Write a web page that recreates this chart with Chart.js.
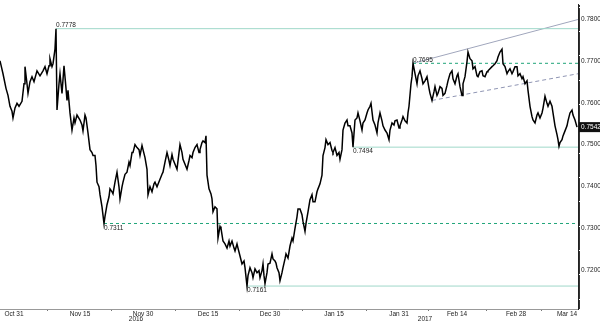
<!DOCTYPE html>
<html>
<head>
<meta charset="utf-8">
<script src="https://cdn.jsdelivr.net/npm/chart.js@4.4.1/dist/chart.umd.min.js"></script>
<style>
  html, body { margin: 0; padding: 0; background: #fff; }
  #wrap { width: 600px; height: 323px; }
</style>
</head>
<body>
<div id="wrap"><canvas id="myChart"></canvas></div>
<script>
// bar index (x) and close price
const bars = [0,3,6,8,10,12,13,15,17,19,22,24,25,27,28,30,32,34,37,40,43,45,47,49,50,52,53,55,56,57,59,60,62,64,66,67,68,70,72,74,75,77,80,82,83,85,86,88,90,92,93,95,96,97,99,100,102,104,105,107,109,110,112,113,115,117,119,120,122,123,125,127,129,130,132,133,135,137,139,140,142,143,145,147,148,150,152,154,155,157,160,162,163,165,167,169,170,172,173,175,177,179,180,182,183,185,187,189,190,192,193,195,197,199,200,202,203,205,206,207,209,211,212,213,215,217,218,220,221,223,225,227,229,230,232,234,235,237,238,240,242,244,245,247,248,250,252,253,255,257,259,260,262,263,264,265,267,268,270,272,273,275,276,277,279,280,282,283,285,286,288,290,292,293,295,297,298,300,302,303,305,306,308,310,312,313,315,317,318,320,322,323,325,326,328,330,332,333,335,337,339,340,342,343,345,347,348,350,352,353,355,357,358,360,362,363,365,367,368,370,371,373,375,377,378,380,382,383,385,387,389,390,392,394,395,397,399,400,402,403,405,407,408,409,411,412,413,415,417,418,420,422,423,425,427,429,430,432,434,435,437,438,440,442,443,445,447,448,450,452,453,455,457,458,460,462,463,465,467,468,470,472,473,475,477,478,480,482,483,485,487,488,490,492,493,495,497,498,500,502,503,505,507,508,510,512,513,515,517,518,520,522,523,525,527,528,530,532,533,535,537,538,540,542,543,545,547,548,550,552,553,555,557,558,559,560,562,563,565,567,568,570,572,573,575,577];
const prices = [0.7701,0.7670,0.7635,0.7618,0.7592,0.7580,0.7564,0.7588,0.7599,0.7592,0.7604,0.7646,0.7687,0.7646,0.7623,0.7651,0.7663,0.7651,0.7677,0.7665,0.7677,0.7687,0.7670,0.7689,0.7706,0.7687,0.7694,0.7729,0.7778,0.7583,0.7646,0.7670,0.7623,0.7689,0.7635,0.7606,0.7630,0.7576,0.7535,0.7564,0.7552,0.7571,0.7559,0.7547,0.7533,0.7571,0.7564,0.7528,0.7488,0.7481,0.7474,0.7474,0.7450,0.7410,0.7399,0.7380,0.7351,0.7311,0.7328,0.7356,0.7375,0.7394,0.7387,0.7382,0.7410,0.7434,0.7399,0.7370,0.7399,0.7410,0.7429,0.7434,0.7458,0.7450,0.7481,0.7481,0.7500,0.7493,0.7488,0.7474,0.7498,0.7488,0.7469,0.7441,0.7380,0.7399,0.7387,0.7406,0.7410,0.7399,0.7417,0.7429,0.7434,0.7458,0.7481,0.7462,0.7450,0.7476,0.7465,0.7453,0.7441,0.7481,0.7500,0.7481,0.7465,0.7453,0.7441,0.7462,0.7474,0.7469,0.7481,0.7493,0.7500,0.7481,0.7488,0.7505,0.7509,0.7505,0.7521,0.7427,0.7394,0.7382,0.7370,0.7339,0.7351,0.7346,0.7276,0.7304,0.7299,0.7269,0.7262,0.7252,0.7269,0.7257,0.7269,0.7252,0.7245,0.7262,0.7252,0.7233,0.7214,0.7221,0.7205,0.7161,0.7186,0.7205,0.7193,0.7181,0.7202,0.7193,0.7198,0.7181,0.7198,0.7214,0.7186,0.7167,0.7193,0.7214,0.7216,0.7238,0.7226,0.7221,0.7216,0.7205,0.7193,0.7174,0.7193,0.7205,0.7226,0.7238,0.7228,0.7257,0.7276,0.7269,0.7299,0.7327,0.7346,0.7346,0.7332,0.7316,0.7292,0.7311,0.7339,0.7368,0.7380,0.7363,0.7363,0.7387,0.7394,0.7406,0.7427,0.7474,0.7493,0.7512,0.7500,0.7505,0.7486,0.7481,0.7493,0.7474,0.7481,0.7465,0.7488,0.7535,0.7552,0.7559,0.7545,0.7545,0.7528,0.7494,0.7559,0.7564,0.7576,0.7557,0.7535,0.7552,0.7559,0.7576,0.7583,0.7592,0.7599,0.7559,0.7547,0.7528,0.7552,0.7576,0.7557,0.7545,0.7535,0.7528,0.7512,0.7535,0.7552,0.7547,0.7557,0.7559,0.7540,0.7545,0.7559,0.7567,0.7557,0.7552,0.7576,0.7592,0.7646,0.7663,0.7695,0.7670,0.7646,0.7665,0.7677,0.7658,0.7646,0.7653,0.7663,0.7635,0.7623,0.7606,0.7627,0.7639,0.7618,0.7623,0.7639,0.7635,0.7618,0.7623,0.7642,0.7653,0.7670,0.7677,0.7658,0.7646,0.7665,0.7670,0.7639,0.7618,0.7646,0.7663,0.7699,0.7722,0.7706,0.7701,0.7682,0.7687,0.7665,0.7663,0.7675,0.7677,0.7665,0.7663,0.7675,0.7677,0.7682,0.7687,0.7689,0.7694,0.7701,0.7710,0.7722,0.7729,0.7694,0.7687,0.7670,0.7675,0.7682,0.7670,0.7675,0.7687,0.7687,0.7665,0.7670,0.7658,0.7663,0.7646,0.7653,0.7630,0.7592,0.7567,0.7559,0.7552,0.7571,0.7576,0.7564,0.7576,0.7587,0.7616,0.7599,0.7592,0.7604,0.7592,0.7576,0.7545,0.7524,0.7512,0.7496,0.7505,0.7512,0.7521,0.7533,0.7545,0.7557,0.7576,0.7583,0.7571,0.7559,0.7542];

const xMax = 578;
const tickBars = [14,80,143,208,270,334,399,457,516,567];
const tickLabels = ["Oct 31","Nov 15","Nov 30","Dec 15","Dec 30","Jan 15","Jan 31","Feb 14","Feb 28","Mar 14"];
const yearBars = [136,425];
const yearLabels = ["2016","2017"];

// support / resistance levels: [start bar, price, dashed, label above?]
const levels = [
  [56, 0.7778, false, true],
  [413, 0.7695, true, true],
  [353, 0.7494, false, false],
  [104, 0.7311, true, false],
  [247, 0.7161, false, false]
];
const upperTrend = [[413, 0.7695], [578, 0.7800]];
const lowerTrend = [[432, 0.7606], [578, 0.7670]];
const lastPrice = 0.7542;

const midTicks = tickBars.slice(0, -1).map((b, i) => (b + tickBars[i + 1]) / 2);

const pts = bars.map((b, i) => ({x: b, y: prices[i]}));

let datasets = [{
  data: pts,
  borderColor: "#000",
  borderWidth: 1.5,
  pointRadius: 0,
  tension: 0,
  order: 0
}];
levels.forEach(l => {
  datasets.push({
    data: [{x: l[0], y: l[1]}, {x: xMax, y: l[1]}],
    borderColor: l[2] ? "#21a57a" : "#9fd8c9",
    borderDash: l[2] ? [3, 3] : [],
    borderWidth: 1,
    pointRadius: 0,
    order: 1
  });
});
datasets.push({
  data: upperTrend.map(p => ({x: p[0], y: p[1]})),
  borderColor: "#a0a6bc", borderWidth: 1, pointRadius: 0, order: 1
});
datasets.push({
  data: lowerTrend.map(p => ({x: p[0], y: p[1]})),
  borderColor: "#8f95b3", borderDash: [4, 3], borderWidth: 1, pointRadius: 0, order: 1
});

const labelsPlugin = {
  id: "labelsPlugin",
  afterDraw(chart) {
    const ctx = chart.ctx;
    const xs = chart.scales.x, ys = chart.scales.y;
    ctx.save();
    ctx.font = "6.5px 'Liberation Sans'";
    ctx.fillStyle = "#222";
    ctx.textAlign = "left";
    levels.forEach(l => {
      const px = xs.getPixelForValue(l[0]);
      const py = ys.getPixelForValue(l[1]);
      ctx.textBaseline = l[3] ? "bottom" : "top";
      ctx.fillText(l[1].toFixed(4), px, l[3] ? py : py + 1);
    });
    // year labels
    ctx.textAlign = "center";
    ctx.textBaseline = "middle";
    yearBars.forEach((b, i) => {
      ctx.fillText(yearLabels[i], xs.getPixelForValue(b), 319.5);
    });
    // last price box
    const ly = ys.getPixelForValue(lastPrice);
    const rx = chart.chartArea.right;
    ctx.fillStyle = "#111";
    ctx.fillRect(rx + 1, ly - 5, 21, 10);
    ctx.fillStyle = "#fff";
    ctx.textAlign = "left";
    ctx.fillText(lastPrice.toFixed(4), rx + 3, ly + 0.5);
    ctx.restore();
  }
};

new Chart("myChart", {
  type: "line",
  data: { datasets: datasets },
  options: {
    responsive: true,
    maintainAspectRatio: false,
    animation: false,
    layout: { padding: 0 },
    plugins: { legend: {display: false}, tooltip: {enabled: false} },
    scales: {
      x: {
        type: "linear",
        min: 0,
        max: xMax,
        afterBuildTicks(scale) {
          scale.ticks = tickBars.concat(midTicks).sort((a, b) => a - b).map(v => ({value: v}));
        },
        afterFit(scale) { scale.height = 14; },
        ticks: {
          autoSkip: false,
          maxRotation: 0,
          padding: -1,
          color: "#222",
          font: {family: "Liberation Sans", size: 6.5},
          callback: v => {
            const i = tickBars.indexOf(v);
            return i >= 0 ? tickLabels[i] : "";
          }
        },
        grid: {
          drawOnChartArea: false,
          tickLength: 2,
          color: c => (c.tick && midTicks.indexOf(c.tick.value) >= 0) ? "#777" : "rgba(0,0,0,0)"
        },
        border: { display: true, color: "#999" }
      },
      y: {
        position: "right",
        min: 0.7106,
        max: 0.7835,
        afterFit(scale) { scale.width = 22; },
        afterBuildTicks(scale) {
          const t = [];
          for (let k = 2843; k <= 3133; k++) t.push({value: k / 4000});
          scale.ticks = t;
        },
        ticks: {
          autoSkip: false,
          padding: 1,
          color: "#222",
          font: {family: "Liberation Sans", size: 6.5},
          callback: v => {
            const r = Math.round(v * 10000);
            return r % 100 === 0 ? (r / 10000).toFixed(4) : "";
          }
        },
        grid: { drawOnChartArea: false, tickLength: 2, color: "#333" },
        border: { display: true, color: "#222" }
      }
    }
  },
  plugins: [labelsPlugin]
});
</script>
</body>
</html>
